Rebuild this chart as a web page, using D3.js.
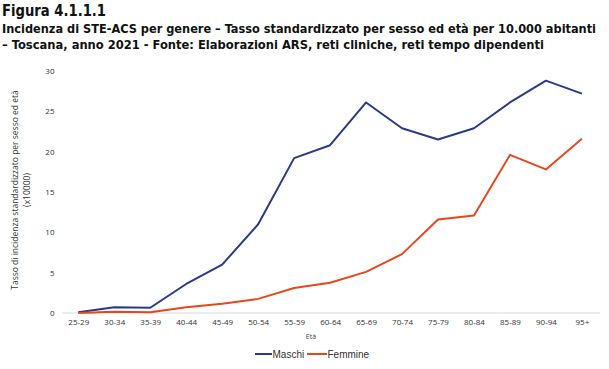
<!DOCTYPE html>
<html><head><meta charset="utf-8">
<script src="https://cdn.jsdelivr.net/npm/d3@7"></script>
<style>body{margin:0;background:#fff}</style>
</head><body>
<svg id="c" width="609" height="369"></svg>
<script>
const categories = ["25-29","30-34","35-39","40-44","45-49","50-54","55-59","60-64","65-69","70-74","75-79","80-84","85-89","90-94","95+"];
const maschi = [0.1,0.7,0.65,3.6,6.0,11.0,19.2,20.8,26.1,22.9,21.5,22.9,26.1,28.8,27.2];
const femmine = [0.0,0.15,0.1,0.7,1.15,1.75,3.1,3.75,5.1,7.3,11.6,12.1,19.6,17.8,21.6];
const yTicks = [0,5,10,15,20,25,30];
const seriesNames = ["Maschi","Femmine"];
const colors = ["#2b3a87","#e8461e"];

const svg = d3.select("#c");
const x = d3.scalePoint().domain(categories).range([78.3, 581.9]);
const y = d3.scaleLinear().domain([0,30]).range([313, 71]);

// titles
const tf = "'DejaVu Sans Condensed','DejaVu Sans',sans-serif";
svg.append("text").attr("x",2).attr("y",16).attr("font-family",tf).attr("font-weight","bold")
  .attr("font-size",16).attr("fill","#111").attr("textLength",104).attr("lengthAdjust","spacingAndGlyphs").text("Figura 4.1.1.1");
svg.append("text").attr("x",2).attr("y",33).attr("font-family",tf).attr("font-weight","bold")
  .attr("font-size",12.8).attr("fill","#111").attr("textLength",594).attr("lengthAdjust","spacingAndGlyphs")
  .text("Incidenza di STE-ACS per genere – Tasso standardizzato per sesso ed età per 10.000 abitanti");
svg.append("text").attr("x",2).attr("y",49).attr("font-family",tf).attr("font-weight","bold")
  .attr("font-size",12.8).attr("fill","#111").attr("textLength",542).attr("lengthAdjust","spacingAndGlyphs")
  .text("– Toscana, anno 2021 - Fonte: Elaborazioni ARS, reti cliniche, reti tempo dipendenti");

const lf = "'Open Sans','Noto Sans',sans-serif";
// baseline grid
svg.append("line").attr("x1",62).attr("x2",600).attr("y1",y(0)).attr("y2",y(0))
  .attr("stroke","#d9d9d9").attr("stroke-width",1);

// y axis
const yAxis = svg.append("g").attr("transform","translate(54.5,0)")
  .call(d3.axisLeft(y).tickValues(yTicks).tickSize(0).tickPadding(0));
yAxis.select(".domain").remove();
yAxis.selectAll("text").attr("font-family",lf).attr("font-size",8).attr("fill","#333");

// x axis
const xAxis = svg.append("g").attr("transform",`translate(0,${y(0)+4})`)
  .call(d3.axisBottom(x).tickSize(0).tickPadding(2));
xAxis.select(".domain").remove();
xAxis.selectAll("text").attr("font-family",lf).attr("font-size",8).attr("fill","#333");

// axis titles
svg.append("text").attr("x",311).attr("y",339).attr("text-anchor","middle")
  .attr("font-family",lf).attr("font-size",7).attr("fill","#404040").text("Età");
const yt = svg.append("text").attr("transform","translate(0,190) rotate(-90)")
  .attr("text-anchor","middle").attr("font-family",lf).attr("font-size",8.5).attr("fill","#333");
yt.append("tspan").attr("x",0).attr("y",18).text("Tasso di incidenza standardizzato per sesso ed età");
yt.append("tspan").attr("x",0).attr("y",30).text("(x10000)");

// lines
const line = d3.line().x((d,i)=>x(categories[i])).y(d=>y(d));
[maschi, femmine].forEach((s,k)=>{
  svg.append("path").datum(s).attr("d",line).attr("fill","none")
    .attr("stroke",colors[k]).attr("stroke-width",2).attr("stroke-linejoin","round");
});

// legend
const leg = [{x:255,w:17,t:272.5},{x:307,w:20,t:327.5}];
seriesNames.forEach((n,k)=>{
  svg.append("line").attr("x1",leg[k].x).attr("x2",leg[k].x+leg[k].w).attr("y1",354).attr("y2",354)
    .attr("stroke",colors[k]).attr("stroke-width",2);
  svg.append("text").attr("x",leg[k].t).attr("y",357.5).attr("font-family","'Liberation Sans',Arial,sans-serif").attr("font-size",10)
    .attr("fill","#333").text(n);
});
</script>
</body></html>
